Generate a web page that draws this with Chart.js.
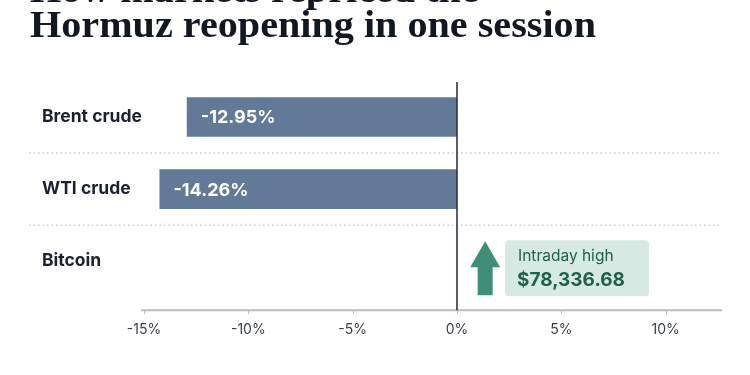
<!DOCTYPE html>
<html>
<head>
<meta charset="utf-8">
<script src="https://cdn.jsdelivr.net/npm/chart.js@4/dist/chart.umd.min.js"></script>
<style>
  html, body { margin: 0; padding: 0; background: #ffffff; }
</style>
</head>
<body>
<canvas id="cv" width="750" height="375"></canvas>
<script>
// ---- data ----
const titleLines = ["How markets repriced the", "Hormuz reopening in one session"];
const categories = ["Brent crude", "WTI crude", "Bitcoin"];
const changePct = [-12.95, -14.26, null];
const valueLabels = ["-12.95%", "-14.26%", ""];
const annotationTitle = "Intraday high";
const annotationValue = "$78,336.68";
const tickValues = [-15, -10, -5, 0, 5, 10];
const axisMin = -15;
const axisMax = 12.7;

const SANS = "Inter, 'Noto Sans', sans-serif";
const SERIF = "'Liberation Serif', 'DejaVu Serif', serif";

const overlay = {
  id: 'overlay',
  beforeDatasetsDraw(chart) {
    const { ctx, chartArea, scales } = chart;
    const y = scales.y, x = scales.x;
    ctx.save();
    // title (cropped first line, as in the reference)
    ctx.fillStyle = '#111822';
    ctx.font = "bold 37px " + SERIF;
    ctx.textAlign = 'left';
    ctx.textBaseline = 'alphabetic';
    const w = ctx.measureText(titleLines[1]).width;
    const sx = 566 / w;
    ctx.save();
    ctx.translate(30, 0);
    ctx.scale(sx, 1);
    ctx.fillText(titleLines[0], 0, 2);
    ctx.fillText(titleLines[1], 0, 37);
    ctx.restore();
    // dotted separators between rows
    ctx.strokeStyle = '#c9cbcf';
    ctx.lineWidth = 1.5;
    ctx.setLineDash([1.5, 3]);
    for (let i = 0; i < categories.length - 1; i++) {
      const yy = (y.getPixelForValue(i) + y.getPixelForValue(i + 1)) / 2;
      ctx.beginPath();
      ctx.moveTo(29, yy);
      ctx.lineTo(chartArea.right, yy);
      ctx.stroke();
    }
    ctx.setLineDash([]);
    // bottom axis line
    const axisY = chartArea.bottom + 13;
    ctx.strokeStyle = '#b9bcc3';
    ctx.lineWidth = 2;
    ctx.beginPath();
    ctx.moveTo(x.getPixelForValue(axisMin) - 3, axisY);
    ctx.lineTo(chartArea.right, axisY);
    ctx.stroke();
    ctx.lineWidth = 1;
    tickValues.forEach(v => {
      const px = Math.round(x.getPixelForValue(v)) + 0.5;
      ctx.beginPath();
      ctx.moveTo(px, axisY);
      ctx.lineTo(px, axisY + 4);
      ctx.stroke();
    });
    ctx.restore();
  },
  afterDatasetsDraw(chart) {
    const { ctx, chartArea, scales } = chart;
    const y = scales.y, x = scales.x;
    const meta = chart.getDatasetMeta(0);
    ctx.save();
    // zero line
    const zx = Math.round(x.getPixelForValue(0));
    ctx.strokeStyle = '#2f3542';
    ctx.lineWidth = 1.6;
    ctx.beginPath();
    ctx.moveTo(zx, chartArea.top + 1);
    ctx.lineTo(zx, chartArea.bottom + 13);
    ctx.stroke();
    // value labels inside bars
    ctx.fillStyle = '#ffffff';
    ctx.font = "bold 18px " + SANS;
    ctx.textBaseline = 'middle';
    ctx.textAlign = 'left';
    meta.data.forEach((bar, i) => {
      if (changePct[i] == null) return;
      ctx.fillText(valueLabels[i], bar.x + 14, bar.y + 1);
    });
    // Bitcoin annotation
    const bi = categories.indexOf("Bitcoin");
    const cy = y.getPixelForValue(bi) + 7;
    const ax = x.getPixelForValue(1.35);
    const top = cy - 27, bot = cy + 27;
    ctx.fillStyle = '#3f8f77';
    ctx.beginPath();
    ctx.moveTo(ax, top);
    ctx.lineTo(ax + 15, top + 26);
    ctx.lineTo(ax + 7.5, top + 26);
    ctx.lineTo(ax + 7.5, bot);
    ctx.lineTo(ax - 7.5, bot);
    ctx.lineTo(ax - 7.5, top + 26);
    ctx.lineTo(ax - 15, top + 26);
    ctx.closePath();
    ctx.fill();
    const bx0 = x.getPixelForValue(2.3), bx1 = x.getPixelForValue(9.2);
    ctx.fillStyle = '#d6eae3';
    ctx.beginPath();
    ctx.roundRect(bx0, cy - 28, bx1 - bx0, 56, 4);
    ctx.fill();
    ctx.fillStyle = '#1f5f4c';
    ctx.font = "15.5px " + SANS;
    ctx.fillText(annotationTitle, bx0 + 13, cy - 12);
    ctx.font = "bold 19px " + SANS;
    ctx.fillText(annotationValue, bx0 + 12, cy + 12);
    ctx.restore();
  }
};

new Chart(document.getElementById('cv'), {
  type: 'bar',
  data: {
    labels: categories,
    datasets: [{
      data: changePct,
      backgroundColor: '#627a98',
      borderWidth: 0,
      categoryPercentage: 1,
      barPercentage: 0.55
    }]
  },
  options: {
    indexAxis: 'y',
    responsive: false,
    animation: false,
    layout: { padding: { left: 42, right: 28, top: 81, bottom: 13 } },
    plugins: {
      legend: { display: false },
      tooltip: { enabled: false },
      title: { display: false }
    },
    scales: {
      x: {
        type: 'linear',
        min: axisMin,
        max: axisMax,
        afterBuildTicks(scale) { scale.ticks = tickValues.map(v => ({ value: v })); },
        grid: { display: false, drawTicks: false },
        border: { display: false },
        ticks: {
          padding: 24,
          color: '#3a404a',
          font: { family: SANS, size: 14 },
          callback: v => v + '%'
        }
      },
      y: {
        grid: { display: false, drawTicks: false },
        border: { display: false },
        afterFit(scale) { scale.width = 102; },
        ticks: {
          crossAlign: 'far',
          padding: 0,
          color: '#1a2130',
          font: { family: SANS, size: 17.5, weight: 'bold' }
        }
      }
    }
  },
  plugins: [overlay]
});
</script>
</body>
</html>
